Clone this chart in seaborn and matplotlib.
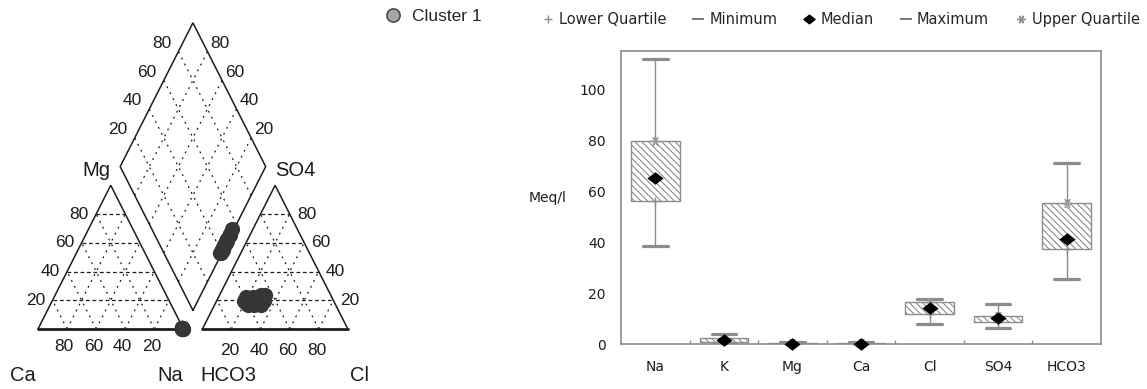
import numpy as np
import matplotlib
matplotlib.use("Agg")
import matplotlib.pyplot as plt
from matplotlib.path import Path
from matplotlib.lines import Line2D
import seaborn as sns

# ---------------- Box plot summary statistics (meq/l) ----------------
ions = ["Na", "K", "Mg", "Ca", "Cl", "SO4", "HCO3"]
minimum = [38.5, 0.4, 0.1, 0.1, 7.9, 6.3, 25.7]
lower_q = [56.5, 0.9, 0.2, 0.2, 11.8, 8.7, 37.3]
median = [65.5, 1.6, 0.3, 0.3, 14.1, 10.4, 41.5]
upper_q = [80.0, 2.4, 0.5, 0.4, 16.5, 11.0, 55.4]
maximum = [112.0, 4.0, 0.9, 0.8, 18.0, 15.7, 71.2]

# ---------------- Piper samples, Cluster 1 (% of meq) ----------------
ca_pct = [0.6, 0.5, 0.8, 0.4, 0.7, 0.9, 0.5, 0.6, 1.0, 0.4, 0.7, 0.5, 0.8, 0.6, 0.9]
mg_pct = [0.4, 0.3, 0.5, 0.6, 0.3, 0.4, 0.7, 0.3, 0.5, 0.2, 0.4, 0.6, 0.3, 0.5, 0.4]
so4_pct = [16.5, 17.0, 17.0, 18.0, 18.5, 19.5, 19.5, 19.5, 20.0, 21.0, 21.5, 22.0, 22.5, 23.5, 24.0]
cl_pct = [23.0, 27.0, 31.5, 21.0, 29.0, 19.0, 24.5, 32.5, 27.0, 20.5, 30.0, 24.0, 19.0, 28.5, 31.0]

piper_ticks = [20, 40, 60, 80]
value_ticks = [0, 20, 40, 60, 80, 100]

sns.set_theme(style="white")
plt.rcParams["font.family"] = ["DejaVu Sans"]
plt.rcParams["hatch.color"] = "#858585"
plt.rcParams["hatch.linewidth"] = 0.8

fig = plt.figure(figsize=(11.47, 3.89), dpi=100)

# ======================= Piper diagram =======================
S = 100.0
H = S * np.sqrt(3) / 2
G = 13.0
B = np.array([S + G / 2, G * np.sqrt(3) / 2])
UR = np.array([S / 2, H])
UL = np.array([-S / 2, H])


def cation_xy(ca, mg):
    ca = np.asarray(ca, float)
    mg = np.asarray(mg, float)
    na = 100 - ca - mg
    return na * S / 100 + mg * S / 200, mg * H / 100


def anion_xy(so4, cl):
    so4 = np.asarray(so4, float)
    cl = np.asarray(cl, float)
    return S + G + cl * S / 100 + so4 * S / 200, so4 * H / 100


def diamond_xy(a, b):
    a = np.asarray(a, float) / 100
    b = np.asarray(b, float) / 100
    return B[0] + a * UR[0] + b * UL[0], B[1] + a * UR[1] + b * UL[1]


pax = fig.add_axes([0, 0, 520 / 1147, 1])
pax.set_xlim(-26.1, 331.3)
pax.set_ylim(-36.1, 198.2)
pax.axis("off")

ink = "#1c1c1c"
edge_kw = dict(color=ink, lw=1.1, solid_joinstyle="miter", zorder=3)
long_dash = dict(color=ink, lw=0.9, dashes=(3.0, 2.2), zorder=2)
short_dash = dict(color=ink, lw=0.9, dashes=(1.5, 3.8), zorder=2)


def seg(p, q, **kw):
    pax.plot([float(p[0]), float(q[0])], [float(p[1]), float(q[1])], **kw)


# triangle and diamond grids
for v in piper_ticks:
    seg(cation_xy(100 - v, v), cation_xy(0, v), **long_dash)
    seg(cation_xy(v, 0), cation_xy(v, 100 - v), **short_dash)
    seg(cation_xy(100 - v, 0), cation_xy(0, 100 - v), **short_dash)
    seg(anion_xy(v, 0), anion_xy(v, 100 - v), **long_dash)
    seg(anion_xy(0, v), anion_xy(100 - v, v), **short_dash)
    seg(anion_xy(0, 100 - v), anion_xy(100 - v, 0), **short_dash)
    seg(diamond_xy(v, 0), diamond_xy(v, 100), **short_dash)
    seg(diamond_xy(0, v), diamond_xy(100, v), **short_dash)

# outlines
for x0 in (0.0, S + G):
    pax.plot([x0, x0 + S / 2, x0 + S], [0, H, 0], **edge_kw)
    pax.plot([x0, x0 + S], [0, 0], color=ink, lw=2.0, zorder=3)
dia = np.array([B, B + UR, B + UR + UL, B + UL, B])
pax.plot(dia[:, 0], dia[:, 1], **edge_kw)

# tick labels
num_kw = dict(fontsize=12.5, family="Liberation Sans", color=ink)
for v in piper_ticks:
    x, y = cation_xy(100 - v, v)
    pax.text(x - 5, y, str(v), ha="right", va="center", **num_kw)
    x, y = cation_xy(v, 0)
    pax.text(x - 2, -10.7, str(v), ha="center", va="center", **num_kw)
    x, y = anion_xy(0, v)
    pax.text(x - 1, -12.7, str(v), ha="center", va="center", **num_kw)
    x, y = anion_xy(v, 100 - v)
    pax.text(x + 5, y, str(v), ha="left", va="center", **num_kw)
    x, y = diamond_xy(v, 100)
    pax.text(x - 5, y + 5, str(v), ha="right", va="center", **num_kw)
    x, y = diamond_xy(100, v)
    pax.text(x + 2, y + 5, str(v), ha="left", va="center", **num_kw)

name_kw = dict(fontsize=14.5, family="Liberation Sans", color=ink, va="center")
pax.text(S / 2 - 0.5, H + 9.2, "Mg", ha="right", **name_kw)
pax.text(S + G + S / 2, H + 9.2, "SO4", ha="left", **name_kw)
pax.text(-19.0, -27.7, "Ca", ha="left", **name_kw)
pax.text(S, -27.7, "Na", ha="right", **name_kw)
pax.text(S + G - 1.5, -27.7, "HCO3", ha="left", **name_kw)
pax.text(2 * S + G + 1.5, -27.7, "Cl", ha="left", **name_kw)

# sample points in the three fields
cx, cy = cation_xy(ca_pct, mg_pct)
axx, axy = anion_xy(so4_pct, cl_pct)
dx, dy = diamond_xy(np.add(so4_pct, cl_pct), np.add(ca_pct, mg_pct))
sns.scatterplot(x=np.concatenate([cx, axx, dx]), y=np.concatenate([cy, axy, dy]),
                s=120, color="#363636", edgecolor="#363636", linewidth=0,
                ax=pax, legend=False, zorder=5, clip_on=False)

pax.legend(handles=[Line2D([], [], ls="", marker="o", ms=9.5, mfc="#a6a6a6",
                           mec="#4a4a4a", mew=1.2, label="Cluster 1")],
           loc="center left", bbox_to_anchor=(384.3 / 520, 1 - 16 / 389),
           frameon=False, borderpad=0, borderaxespad=0, handlelength=1.0,
           handletextpad=0.6, prop=dict(family="Liberation Sans", size=12.5))

# ======================= Box plot =======================
bax = fig.add_axes([621 / 1147, (389 - 344.3) / 389, 480 / 1147, 293.3 / 389])
pos = np.arange(len(ions))
grey = "#8c8c8c"
stats = [dict(med=m, q1=lq, q3=uq, whislo=lo, whishi=hi, fliers=[])
         for m, lq, uq, lo, hi in zip(median, lower_q, upper_q, minimum, maximum)]
bax.bxp(stats, positions=pos, widths=0.71, capwidths=0.36, patch_artist=True,
        showfliers=False,
        boxprops=dict(facecolor="white", edgecolor=grey, hatch="\\" * 5, linewidth=1.0),
        whiskerprops=dict(color=grey, linewidth=1.0),
        capprops=dict(color=grey, linewidth=2.3),
        medianprops=dict(linewidth=0))

diamond = Path([(-1, 0), (0, 0.78), (1, 0), (0, -0.78), (-1, 0)],
               [Path.MOVETO, Path.LINETO, Path.LINETO, Path.LINETO, Path.CLOSEPOLY])
sns.scatterplot(x=pos, y=median, marker=diamond, s=135, color="black",
                edgecolor="black", linewidth=0, ax=bax, legend=False, zorder=6, clip_on=False)
bax.plot(pos, lower_q, ls="", marker="+", ms=6, mew=1.0, color=grey, zorder=5, clip_on=False)
bax.plot(pos, upper_q, ls="", marker=(6, 2, 90), ms=7, mew=1.0, color="#9a9a9a",
         zorder=5, clip_on=False)

bax.set_xlim(-0.5, len(ions) - 0.5)
bax.set_ylim(0, 115.3)
bax.set_yticks(value_ticks)
bax.set_xticks(pos, ions)
bax.set_xticks(np.arange(0.5, len(ions) - 1, 1), minor=True)
bax.tick_params(axis="y", length=0, pad=11, labelsize=10, labelcolor=ink)
bax.tick_params(axis="x", which="major", length=0, pad=11.5, labelsize=10, labelcolor=ink)
bax.tick_params(axis="x", which="minor", direction="in", length=3, width=1,
                color=grey, bottom=True)
for sp in bax.spines.values():
    sp.set_color(grey)
    sp.set_linewidth(1.2)
bax.grid(False)
bax.text(-0.152, 0.499, "Meq/l", transform=bax.transAxes, ha="center", va="center",
         fontsize=10, color=ink)

legend_handles = [
    Line2D([], [], ls="", marker="+", ms=6, mew=1.0, color=grey, label="Lower Quartile"),
    Line2D([], [], ls="", marker="_", ms=9, mew=1.3, color="#707070", label="Minimum"),
    Line2D([], [], ls="", marker=diamond, ms=8, color="black", label="Median"),
    Line2D([], [], ls="", marker="_", ms=9, mew=1.3, color="#707070", label="Maximum"),
    Line2D([], [], ls="", marker=(6, 2, 90), ms=6, mew=1.0, color=grey, label="Upper Quartile"),
]
fig.legend(handles=legend_handles, loc="center", bbox_to_anchor=(0.7332, 0.9486),
           ncol=5, frameon=False, fontsize=10.5, handlelength=0.8, handletextpad=0.36,
           columnspacing=1.8, borderpad=0, borderaxespad=0)

fig.savefig("out.png", dpi=100)
